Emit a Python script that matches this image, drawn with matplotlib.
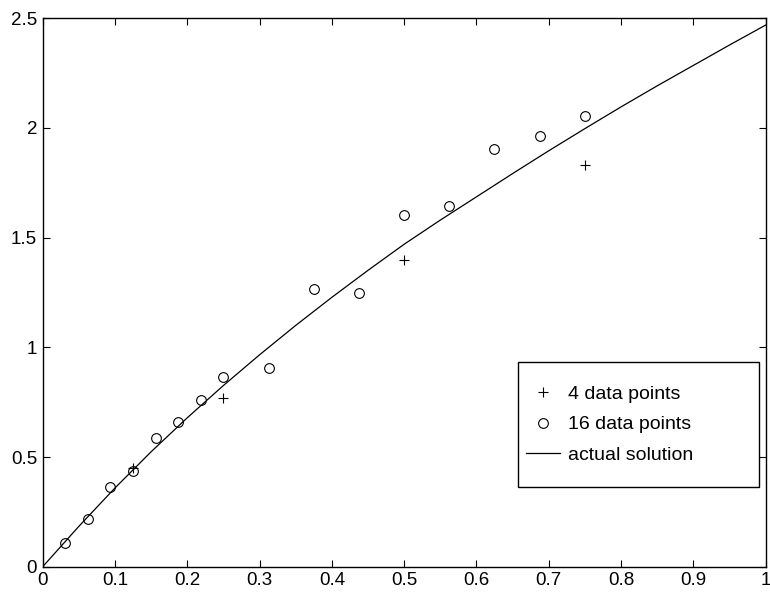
import matplotlib
matplotlib.use("Agg")
import matplotlib.pyplot as plt
from matplotlib.patches import Rectangle

# 4 data points (+)
x4 = [0.125, 0.25, 0.5, 0.75]
y4 = [0.45, 0.77, 1.40, 1.83]

# 16 data points (o)
x16 = [0.03125, 0.0625, 0.09375, 0.125, 0.15625, 0.1875, 0.21875, 0.25,
       0.3125, 0.375, 0.4375, 0.5, 0.5625, 0.625, 0.6875, 0.75]
y16 = [0.108, 0.217, 0.363, 0.434, 0.588, 0.658, 0.762, 0.866,
       0.908, 1.265, 1.247, 1.603, 1.644, 1.904, 1.964, 2.054]

# actual solution
x_true = [0.0, 0.05, 0.1, 0.15, 0.2, 0.25, 0.3, 0.35, 0.4, 0.45, 0.5,
          0.55, 0.6, 0.65, 0.7, 0.75, 0.8, 0.85, 0.9, 0.95, 1.0]
y_true = [0.0, 0.184, 0.359, 0.524, 0.679, 0.826, 0.966, 1.100, 1.228, 1.351, 1.470,
          1.580, 1.686, 1.792, 1.896, 1.997, 2.096, 2.192, 2.285, 2.378, 2.469]

xticks = [0, 0.1, 0.2, 0.3, 0.4, 0.5, 0.6, 0.7, 0.8, 0.9, 1]
xtick_labels = ["0", "0.1", "0.2", "0.3", "0.4", "0.5", "0.6", "0.7", "0.8", "0.9", "1"]
yticks = [0, 0.5, 1, 1.5, 2, 2.5]
ytick_labels = ["0", "0.5", "1", "1.5", "2", "2.5"]

plt.rcParams["font.family"] = ["Liberation Sans", "DejaVu Sans"]
plt.rcParams["font.size"] = 13.5

fig = plt.figure(figsize=(7.7, 5.95), dpi=100)
ax = fig.add_axes([0.0555, 0.0476, 0.9387, 0.9216])

ax.plot(x4, y4, linestyle="none", marker="+", color="black",
        markersize=7, markeredgewidth=0.8, label="4 data points")
ax.plot(x16, y16, linestyle="none", marker="o", color="black",
        markerfacecolor="none", markersize=7, markeredgewidth=0.8,
        label="16 data points")
ax.plot(x_true, y_true, color="black", linewidth=0.9, label="actual solution")

ax.set_xlim(0, 1)
ax.set_ylim(0, 2.5)
ax.set_xticks(xticks)
ax.set_xticklabels(xtick_labels)
ax.set_yticks(yticks)
ax.set_yticklabels(ytick_labels)
ax.tick_params(direction="in", length=5, width=0.8, top=True, right=True,
               labelsize=13.5, colors="black", pad=4)
for side in ax.spines.values():
    side.set_linewidth(1.0)
    side.set_color("black")

# MATLAB-style legend box: wide frame, entries hugging the left edge
ax.add_patch(Rectangle((0.658, 0.145), 0.333, 0.228, transform=ax.transAxes,
                       facecolor="white", edgecolor="black", linewidth=1.0, zorder=4))
leg = ax.legend(loc="center left", bbox_to_anchor=(0.669, 0.259),
                frameon=False, borderpad=0, labelspacing=0.68, handlelength=1.75,
                handletextpad=0.4, borderaxespad=0, fontsize=14)
leg.set_zorder(5)

fig.savefig("out.png", dpi=100)
